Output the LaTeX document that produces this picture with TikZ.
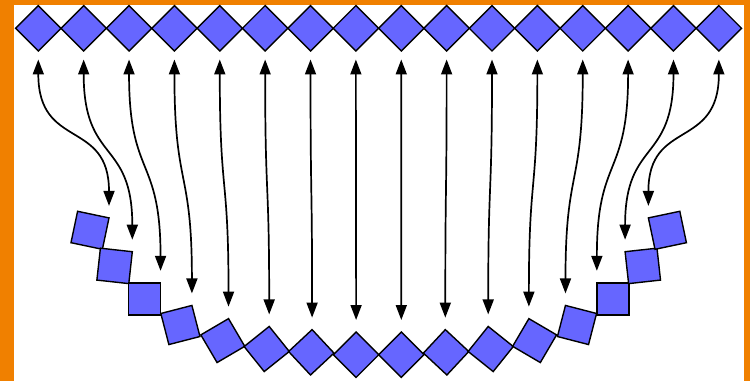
\documentclass[tikz,border=0pt]{standalone}
\usetikzlibrary{arrows.meta}
\definecolor{frameorange}{RGB}{240,128,0}
\definecolor{sqblue}{RGB}{102,102,255}
\begin{document}
\begin{tikzpicture}[x=1pt,y=1pt,
  sq/.style={draw=black, fill=sqblue, line width=1.4pt, minimum size=32.1pt,
    inner sep=0pt, outer sep=0pt, line join=miter},
  arr/.style={line width=1.7pt,
    {Triangle[length=15pt,width=11pt]}-{Triangle[length=15pt,width=11pt]},
    shorten <=8.5pt, shorten >=12pt}]
\useasboundingbox (0,0) rectangle (750,381);
\fill[frameorange] (0,0) rectangle (750,381);
\fill[white] (14,0) rectangle (744,376);
% top row of diamonds
\foreach \i in {1,...,16}{
  \node[sq, rotate=45] (t\i) at ({38.3+45.37*(\i-1)}, {381-28.3}) {};
}
% bent row of squares
\foreach \i/\dx/\y/\r in {
  1/-288.7/230.3/-11.9, 2/-264.1/265.9/-6.3, 3/-234.2/298.9/0,
  4/-198.3/325.0/14.5, 5/-155.9/340.6/30.4, 6/-112.0/349.0/38.7,
  7/-67.4/352.3/43, 8/-22.6/354.7/45, 9/22.6/354.7/45,
  10/67.4/352.3/47, 11/112.0/349.0/51.3, 12/155.9/340.6/59.6,
  13/198.3/325.0/75.5, 14/234.2/298.9/90, 15/264.1/265.9/96.3,
  16/288.7/230.3/101.9}{
  \node[sq, rotate=\r] (b\i) at ({378.7+\dx}, {381-\y}) {};
}
% arrows
\foreach \i in {1,...,16}{
  \draw[arr] (t\i.south west) to[out=-90, in=90, looseness=1.4] (b\i.north east);
}
\end{tikzpicture}
\end{document}
